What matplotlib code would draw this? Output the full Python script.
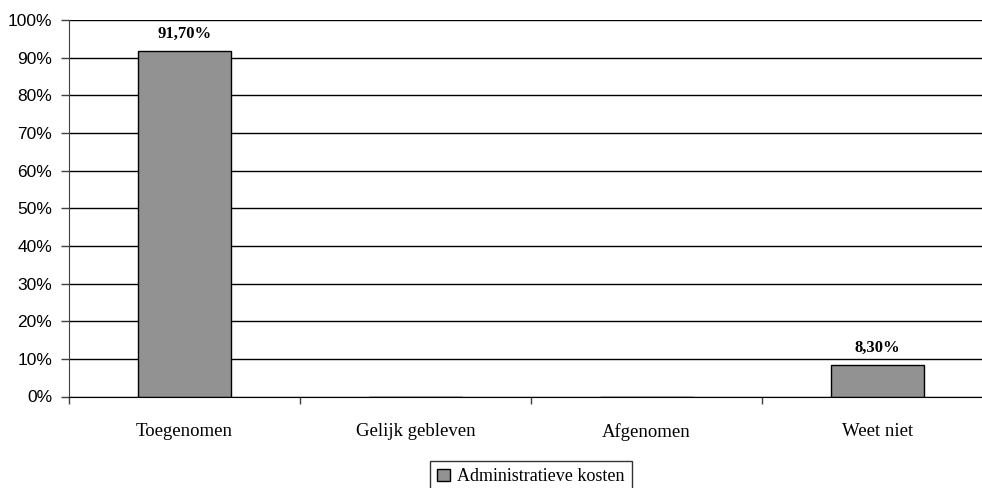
import matplotlib.pyplot as plt
import numpy as np

# Categorieen en waarden (percentages)
categories = ["Toegenomen", "Gelijk gebleven", "Afgenomen", "Weet niet"]
values = [91.70, 0.0, 0.0, 8.30]
value_labels = ["91,70%", "", "", "8,30%"]
series_name = "Administratieve kosten"
yticks = list(range(0, 101, 10))

fig = plt.figure(figsize=(9.82, 4.88), dpi=100)
# axes loopt rechts buiten de afbeelding (origineel is bijgesneden)
ax = fig.add_axes([69 / 982, 91.5 / 488, 924 / 982, 376.5 / 488])

x = np.arange(len(categories))
bars = ax.bar(x, values, 0.4, color="#929292", edgecolor="black", linewidth=1,
              label=series_name, zorder=3)

for xi, v, lab in zip(x, values, value_labels):
    if lab:
        ax.annotate(lab, (xi, v), xytext=(0, 7), textcoords="offset points",
                    ha="center", va="bottom", fontsize=12, fontweight="bold",
                    family="Liberation Serif")

ax.set_xlim(-0.5, len(categories) - 0.5)
ax.set_ylim(0, 100)
ax.set_yticks(yticks)
ax.set_yticklabels([f"{t}%" for t in yticks], family="Liberation Sans", fontsize=12.5)
ax.yaxis.grid(True, color="black", linewidth=1, zorder=0)

ax.set_xticks(x)
ax.set_xticklabels(categories, family="Liberation Serif", fontsize=13.5)
ax.set_xticks(np.arange(-0.5, len(categories)), minor=True)
ax.tick_params(axis="x", which="major", length=0, pad=19)
ax.tick_params(axis="x", which="minor", length=5, width=1, color="#404040")
ax.tick_params(axis="y", length=6, width=1, color="#404040", pad=6)

for s in ["top", "right"]:
    ax.spines[s].set_visible(False)
ax.spines["left"].set_color("#404040")
ax.spines["bottom"].set_color("black")
ax.spines["bottom"].set_zorder(5)

leg = fig.legend(handles=[bars], loc="upper center",
                 bbox_to_anchor=(531 / 982, 1 - 461 / 488),
                 prop={"family": "Liberation Serif", "size": 13},
                 frameon=True, fancybox=False, edgecolor="black",
                 handlelength=0.7, handleheight=0.7, handletextpad=0.4,
                 borderpad=0.4, borderaxespad=0)
leg.get_frame().set_linewidth(1)

fig.savefig("out.png", dpi=100)
